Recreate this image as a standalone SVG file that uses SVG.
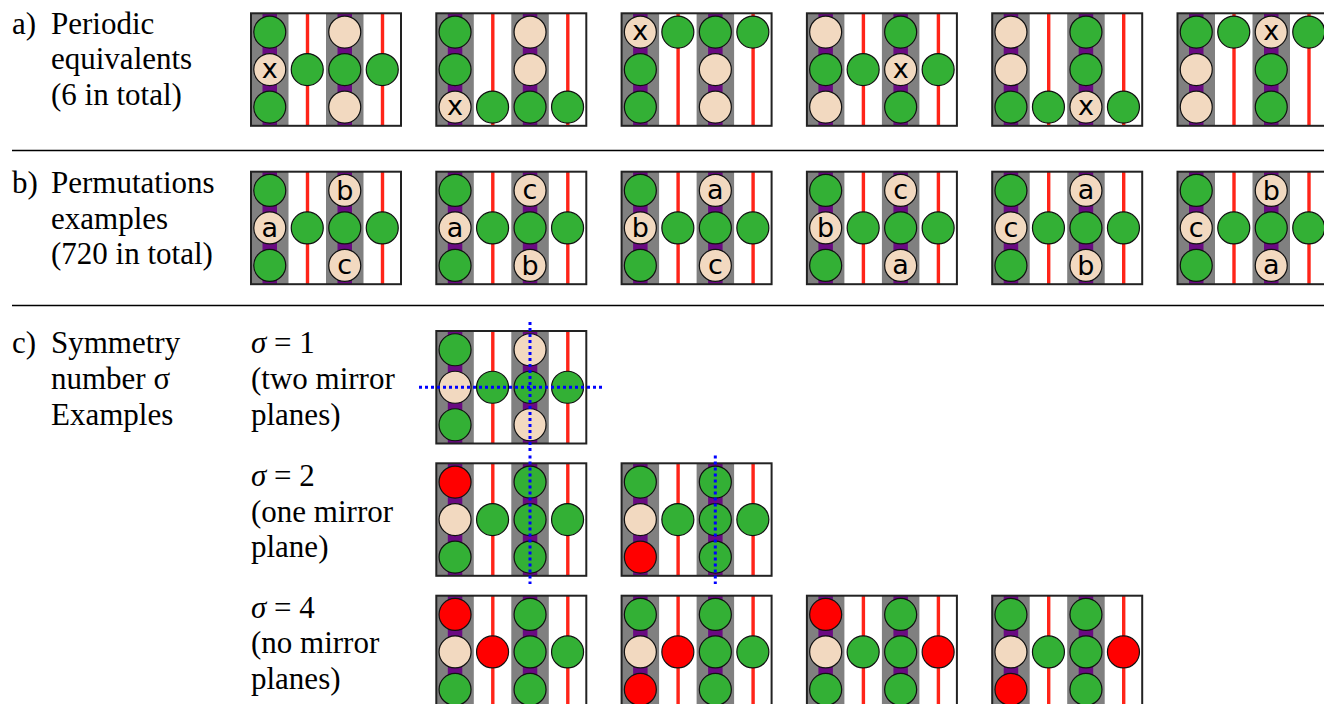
<svg xmlns="http://www.w3.org/2000/svg" xmlns:xlink="http://www.w3.org/1999/xlink" width="1324" height="704" viewBox="0 0 1324 704">
  <style>
    .txt { font-family: 'Liberation Serif', 'Times New Roman', 'Noto Serif', 'Tinos', 'FreeSerif', 'Nimbus Roman', 'Nimbus Roman No9 L', 'DejaVu Serif', 'Bitstream Vera Serif', Georgia, Times, serif; font-size: 31px; fill: #000; }
    .it { font-style: italic; }
    .sep { stroke: #000; stroke-width: 1.5; }
    .g { fill: #33b035; stroke: #111; stroke-width: 1.2; }
    .p { fill: #f2d9c0; stroke: #111; stroke-width: 1.2; }
    .r { fill: #ff0000; stroke: #111; stroke-width: 1.2; }
    .lbl { font-family: 'DejaVu Sans', 'Liberation Sans', sans-serif; font-size: 27px; fill: #000; text-anchor: middle; }
    .frame { fill: none; stroke: #222; stroke-width: 2; }
    .mirror { stroke: #0000ff; stroke-width: 3; stroke-dasharray: 3 3; fill: none; }
  </style>
  <defs>
    <!-- cell background: two grey columns with purple strips, two white columns with red rods -->
    <g id="bg">
      <rect x="0" y="0" width="150" height="112.5" fill="#ffffff"/>
      <rect x="0" y="0" width="37.5" height="112.5" fill="#808080"/>
      <rect x="75" y="0" width="37.5" height="112.5" fill="#808080"/>
      <rect x="11.5" y="0" width="14.5" height="112.5" fill="#6a0a82"/>
      <rect x="86.5" y="0" width="14.5" height="112.5" fill="#6a0a82"/>
      <rect x="54.8" y="0" width="3.4" height="112.5" fill="#ff2418"/>
      <rect x="129.8" y="0" width="3.4" height="112.5" fill="#ff2418"/>
    </g>
    <rect id="fr" class="frame" x="0" y="0" width="150" height="112.5"/>
  </defs>

  <rect width="1324" height="704" fill="#ffffff"/>

  <!-- section labels -->
  <g id="labels">
    <text class="txt" x="12" y="33.5">a)</text>
    <text class="txt" x="51" y="33.5">Periodic</text>
    <text class="txt" x="51" y="69">equivalents</text>
    <text class="txt" x="51" y="104.5">(6 in total)</text>

    <text class="txt" x="12" y="193">b)</text>
    <text class="txt" x="51" y="193">Permutations</text>
    <text class="txt" x="51" y="228.5">examples</text>
    <text class="txt" x="51" y="264">(720 in total)</text>

    <text class="txt" x="12" y="353">c)</text>
    <text class="txt" x="51" y="353">Symmetry</text>
    <text class="txt" x="51" y="389">number σ</text>
    <text class="txt" x="51" y="424.5">Examples</text>

    <text class="txt" x="251" y="353"><tspan class="it">σ</tspan> = 1</text>
    <text class="txt" x="251" y="389">(two mirror</text>
    <text class="txt" x="251" y="424.5">planes)</text>

    <text class="txt" x="251" y="486"><tspan class="it">σ</tspan> = 2</text>
    <text class="txt" x="251" y="521.5">(one mirror</text>
    <text class="txt" x="251" y="557">plane)</text>

    <text class="txt" x="251" y="617.5"><tspan class="it">σ</tspan> = 4</text>
    <text class="txt" x="251" y="653">(no mirror</text>
    <text class="txt" x="251" y="688.5">planes)</text>
  </g>

  <g id="separators">
    <line class="sep" x1="12" y1="150.5" x2="1324" y2="150.5"/>
    <line class="sep" x1="12" y1="305.5" x2="1324" y2="305.5"/>
  </g>

  <!-- a) periodic equivalents -->
  <g id="a1" transform="translate(251,13.3)">
    <use xlink:href="#bg"/>
    <circle class="g" cx="18.75" cy="18.75" r="16"/><circle class="p" cx="18.75" cy="56.25" r="16"/><circle class="g" cx="18.75" cy="93.75" r="16"/>
    <circle class="g" cx="56.25" cy="56.25" r="16"/>
    <circle class="p" cx="93.75" cy="18.75" r="16"/><circle class="g" cx="93.75" cy="56.25" r="16"/><circle class="p" cx="93.75" cy="93.75" r="16"/>
    <circle class="g" cx="131.25" cy="56.25" r="16"/>
    <text class="lbl" x="18.75" y="64.5">x</text>
    <use xlink:href="#fr"/>
  </g>
  <g id="a2" transform="translate(436.3,13.3)">
    <use xlink:href="#bg"/>
    <circle class="g" cx="18.75" cy="18.75" r="16"/><circle class="g" cx="18.75" cy="56.25" r="16"/><circle class="p" cx="18.75" cy="93.75" r="16"/>
    <circle class="g" cx="56.25" cy="93.75" r="16"/>
    <circle class="p" cx="93.75" cy="18.75" r="16"/><circle class="p" cx="93.75" cy="56.25" r="16"/><circle class="g" cx="93.75" cy="93.75" r="16"/>
    <circle class="g" cx="131.25" cy="93.75" r="16"/>
    <text class="lbl" x="18.75" y="102">x</text>
    <use xlink:href="#fr"/>
  </g>
  <g id="a3" transform="translate(621.6,13.3)">
    <use xlink:href="#bg"/>
    <circle class="p" cx="18.75" cy="18.75" r="16"/><circle class="g" cx="18.75" cy="56.25" r="16"/><circle class="g" cx="18.75" cy="93.75" r="16"/>
    <circle class="g" cx="56.25" cy="18.75" r="16"/>
    <circle class="g" cx="93.75" cy="18.75" r="16"/><circle class="p" cx="93.75" cy="56.25" r="16"/><circle class="p" cx="93.75" cy="93.75" r="16"/>
    <circle class="g" cx="131.25" cy="18.75" r="16"/>
    <text class="lbl" x="18.75" y="27">x</text>
    <use xlink:href="#fr"/>
  </g>
  <g id="a4" transform="translate(806.9,13.3)">
    <use xlink:href="#bg"/>
    <circle class="p" cx="18.75" cy="18.75" r="16"/><circle class="g" cx="18.75" cy="56.25" r="16"/><circle class="p" cx="18.75" cy="93.75" r="16"/>
    <circle class="g" cx="56.25" cy="56.25" r="16"/>
    <circle class="g" cx="93.75" cy="18.75" r="16"/><circle class="p" cx="93.75" cy="56.25" r="16"/><circle class="g" cx="93.75" cy="93.75" r="16"/>
    <circle class="g" cx="131.25" cy="56.25" r="16"/>
    <text class="lbl" x="93.75" y="64.5">x</text>
    <use xlink:href="#fr"/>
  </g>
  <g id="a5" transform="translate(992.2,13.3)">
    <use xlink:href="#bg"/>
    <circle class="p" cx="18.75" cy="18.75" r="16"/><circle class="p" cx="18.75" cy="56.25" r="16"/><circle class="g" cx="18.75" cy="93.75" r="16"/>
    <circle class="g" cx="56.25" cy="93.75" r="16"/>
    <circle class="g" cx="93.75" cy="18.75" r="16"/><circle class="g" cx="93.75" cy="56.25" r="16"/><circle class="p" cx="93.75" cy="93.75" r="16"/>
    <circle class="g" cx="131.25" cy="93.75" r="16"/>
    <text class="lbl" x="93.75" y="102">x</text>
    <use xlink:href="#fr"/>
  </g>
  <g id="a6" transform="translate(1177.5,13.3)">
    <use xlink:href="#bg"/>
    <circle class="g" cx="18.75" cy="18.75" r="16"/><circle class="p" cx="18.75" cy="56.25" r="16"/><circle class="p" cx="18.75" cy="93.75" r="16"/>
    <circle class="g" cx="56.25" cy="18.75" r="16"/>
    <circle class="p" cx="93.75" cy="18.75" r="16"/><circle class="g" cx="93.75" cy="56.25" r="16"/><circle class="g" cx="93.75" cy="93.75" r="16"/>
    <circle class="g" cx="131.25" cy="18.75" r="16"/>
    <text class="lbl" x="93.75" y="27">x</text>
    <use xlink:href="#fr"/>
  </g>

  <!-- b) permutation examples -->
  <g id="b1" transform="translate(251,171.7)">
    <use xlink:href="#bg"/>
    <circle class="g" cx="18.75" cy="18.75" r="16"/><circle class="p" cx="18.75" cy="56.25" r="16"/><circle class="g" cx="18.75" cy="93.75" r="16"/>
    <circle class="g" cx="56.25" cy="56.25" r="16"/>
    <circle class="p" cx="93.75" cy="18.75" r="16"/><circle class="g" cx="93.75" cy="56.25" r="16"/><circle class="p" cx="93.75" cy="93.75" r="16"/>
    <circle class="g" cx="131.25" cy="56.25" r="16"/>
    <text class="lbl" x="18.75" y="65">a</text><text class="lbl" x="93.75" y="28">b</text><text class="lbl" x="93.75" y="102.5">c</text>
    <use xlink:href="#fr"/>
  </g>
  <g id="b2" transform="translate(436.3,171.7)">
    <use xlink:href="#bg"/>
    <circle class="g" cx="18.75" cy="18.75" r="16"/><circle class="p" cx="18.75" cy="56.25" r="16"/><circle class="g" cx="18.75" cy="93.75" r="16"/>
    <circle class="g" cx="56.25" cy="56.25" r="16"/>
    <circle class="p" cx="93.75" cy="18.75" r="16"/><circle class="g" cx="93.75" cy="56.25" r="16"/><circle class="p" cx="93.75" cy="93.75" r="16"/>
    <circle class="g" cx="131.25" cy="56.25" r="16"/>
    <text class="lbl" x="18.75" y="65">a</text><text class="lbl" x="93.75" y="27.5">c</text><text class="lbl" x="93.75" y="103">b</text>
    <use xlink:href="#fr"/>
  </g>
  <g id="b3" transform="translate(621.6,171.7)">
    <use xlink:href="#bg"/>
    <circle class="g" cx="18.75" cy="18.75" r="16"/><circle class="p" cx="18.75" cy="56.25" r="16"/><circle class="g" cx="18.75" cy="93.75" r="16"/>
    <circle class="g" cx="56.25" cy="56.25" r="16"/>
    <circle class="p" cx="93.75" cy="18.75" r="16"/><circle class="g" cx="93.75" cy="56.25" r="16"/><circle class="p" cx="93.75" cy="93.75" r="16"/>
    <circle class="g" cx="131.25" cy="56.25" r="16"/>
    <text class="lbl" x="18.75" y="65.5">b</text><text class="lbl" x="93.75" y="27.5">a</text><text class="lbl" x="93.75" y="102.5">c</text>
    <use xlink:href="#fr"/>
  </g>
  <g id="b4" transform="translate(806.9,171.7)">
    <use xlink:href="#bg"/>
    <circle class="g" cx="18.75" cy="18.75" r="16"/><circle class="p" cx="18.75" cy="56.25" r="16"/><circle class="g" cx="18.75" cy="93.75" r="16"/>
    <circle class="g" cx="56.25" cy="56.25" r="16"/>
    <circle class="p" cx="93.75" cy="18.75" r="16"/><circle class="g" cx="93.75" cy="56.25" r="16"/><circle class="p" cx="93.75" cy="93.75" r="16"/>
    <circle class="g" cx="131.25" cy="56.25" r="16"/>
    <text class="lbl" x="18.75" y="65.5">b</text><text class="lbl" x="93.75" y="27.5">c</text><text class="lbl" x="93.75" y="102.5">a</text>
    <use xlink:href="#fr"/>
  </g>
  <g id="b5" transform="translate(992.2,171.7)">
    <use xlink:href="#bg"/>
    <circle class="g" cx="18.75" cy="18.75" r="16"/><circle class="p" cx="18.75" cy="56.25" r="16"/><circle class="g" cx="18.75" cy="93.75" r="16"/>
    <circle class="g" cx="56.25" cy="56.25" r="16"/>
    <circle class="p" cx="93.75" cy="18.75" r="16"/><circle class="g" cx="93.75" cy="56.25" r="16"/><circle class="p" cx="93.75" cy="93.75" r="16"/>
    <circle class="g" cx="131.25" cy="56.25" r="16"/>
    <text class="lbl" x="18.75" y="65">c</text><text class="lbl" x="93.75" y="27.5">a</text><text class="lbl" x="93.75" y="103">b</text>
    <use xlink:href="#fr"/>
  </g>
  <g id="b6" transform="translate(1177.5,171.7)">
    <use xlink:href="#bg"/>
    <circle class="g" cx="18.75" cy="18.75" r="16"/><circle class="p" cx="18.75" cy="56.25" r="16"/><circle class="g" cx="18.75" cy="93.75" r="16"/>
    <circle class="g" cx="56.25" cy="56.25" r="16"/>
    <circle class="p" cx="93.75" cy="18.75" r="16"/><circle class="g" cx="93.75" cy="56.25" r="16"/><circle class="p" cx="93.75" cy="93.75" r="16"/>
    <circle class="g" cx="131.25" cy="56.25" r="16"/>
    <text class="lbl" x="18.75" y="65">c</text><text class="lbl" x="93.75" y="28">b</text><text class="lbl" x="93.75" y="102.5">a</text>
    <use xlink:href="#fr"/>
  </g>

  <!-- c) symmetry examples -->
  <g id="s1" transform="translate(436.3,331)">
    <use xlink:href="#bg"/>
    <circle class="g" cx="18.75" cy="18.75" r="16"/><circle class="p" cx="18.75" cy="56.25" r="16"/><circle class="g" cx="18.75" cy="93.75" r="16"/>
    <circle class="g" cx="56.25" cy="56.25" r="16"/>
    <circle class="p" cx="93.75" cy="18.75" r="16"/><circle class="g" cx="93.75" cy="56.25" r="16"/><circle class="p" cx="93.75" cy="93.75" r="16"/>
    <circle class="g" cx="131.25" cy="56.25" r="16"/>
    <use xlink:href="#fr"/>
  </g>
  <g id="s2a" transform="translate(436.3,463.3)">
    <use xlink:href="#bg"/>
    <circle class="r" cx="18.75" cy="18.75" r="16"/><circle class="p" cx="18.75" cy="56.25" r="16"/><circle class="g" cx="18.75" cy="93.75" r="16"/>
    <circle class="g" cx="56.25" cy="56.25" r="16"/>
    <circle class="g" cx="93.75" cy="18.75" r="16"/><circle class="g" cx="93.75" cy="56.25" r="16"/><circle class="g" cx="93.75" cy="93.75" r="16"/>
    <circle class="g" cx="131.25" cy="56.25" r="16"/>
    <use xlink:href="#fr"/>
  </g>
  <g id="s2b" transform="translate(621.6,463.3)">
    <use xlink:href="#bg"/>
    <circle class="g" cx="18.75" cy="18.75" r="16"/><circle class="p" cx="18.75" cy="56.25" r="16"/><circle class="r" cx="18.75" cy="93.75" r="16"/>
    <circle class="g" cx="56.25" cy="56.25" r="16"/>
    <circle class="g" cx="93.75" cy="18.75" r="16"/><circle class="g" cx="93.75" cy="56.25" r="16"/><circle class="g" cx="93.75" cy="93.75" r="16"/>
    <circle class="g" cx="131.25" cy="56.25" r="16"/>
    <use xlink:href="#fr"/>
  </g>
  <g id="s4a" transform="translate(436.3,595.7)">
    <use xlink:href="#bg"/>
    <circle class="r" cx="18.75" cy="18.75" r="16"/><circle class="p" cx="18.75" cy="56.25" r="16"/><circle class="g" cx="18.75" cy="93.75" r="16"/>
    <circle class="r" cx="56.25" cy="56.25" r="16"/>
    <circle class="g" cx="93.75" cy="18.75" r="16"/><circle class="g" cx="93.75" cy="56.25" r="16"/><circle class="g" cx="93.75" cy="93.75" r="16"/>
    <circle class="g" cx="131.25" cy="56.25" r="16"/>
    <use xlink:href="#fr"/>
  </g>
  <g id="s4b" transform="translate(621.6,595.7)">
    <use xlink:href="#bg"/>
    <circle class="g" cx="18.75" cy="18.75" r="16"/><circle class="p" cx="18.75" cy="56.25" r="16"/><circle class="r" cx="18.75" cy="93.75" r="16"/>
    <circle class="r" cx="56.25" cy="56.25" r="16"/>
    <circle class="g" cx="93.75" cy="18.75" r="16"/><circle class="g" cx="93.75" cy="56.25" r="16"/><circle class="g" cx="93.75" cy="93.75" r="16"/>
    <circle class="g" cx="131.25" cy="56.25" r="16"/>
    <use xlink:href="#fr"/>
  </g>
  <g id="s4c" transform="translate(806.9,595.7)">
    <use xlink:href="#bg"/>
    <circle class="r" cx="18.75" cy="18.75" r="16"/><circle class="p" cx="18.75" cy="56.25" r="16"/><circle class="g" cx="18.75" cy="93.75" r="16"/>
    <circle class="g" cx="56.25" cy="56.25" r="16"/>
    <circle class="g" cx="93.75" cy="18.75" r="16"/><circle class="g" cx="93.75" cy="56.25" r="16"/><circle class="g" cx="93.75" cy="93.75" r="16"/>
    <circle class="r" cx="131.25" cy="56.25" r="16"/>
    <use xlink:href="#fr"/>
  </g>
  <g id="s4d" transform="translate(992.2,595.7)">
    <use xlink:href="#bg"/>
    <circle class="g" cx="18.75" cy="18.75" r="16"/><circle class="p" cx="18.75" cy="56.25" r="16"/><circle class="r" cx="18.75" cy="93.75" r="16"/>
    <circle class="g" cx="56.25" cy="56.25" r="16"/>
    <circle class="g" cx="93.75" cy="18.75" r="16"/><circle class="g" cx="93.75" cy="56.25" r="16"/><circle class="g" cx="93.75" cy="93.75" r="16"/>
    <circle class="r" cx="131.25" cy="56.25" r="16"/>
    <use xlink:href="#fr"/>
  </g>

  <!-- mirror planes (dotted) -->
  <g id="mirrors">
    <line class="mirror" x1="530" y1="322" x2="530" y2="452"/>
    <line class="mirror" x1="419" y1="387.25" x2="605" y2="387.25"/>
    <line class="mirror" x1="530" y1="455.5" x2="530" y2="584"/>
    <line class="mirror" x1="715.3" y1="455.5" x2="715.3" y2="584"/>
  </g>
</svg>
